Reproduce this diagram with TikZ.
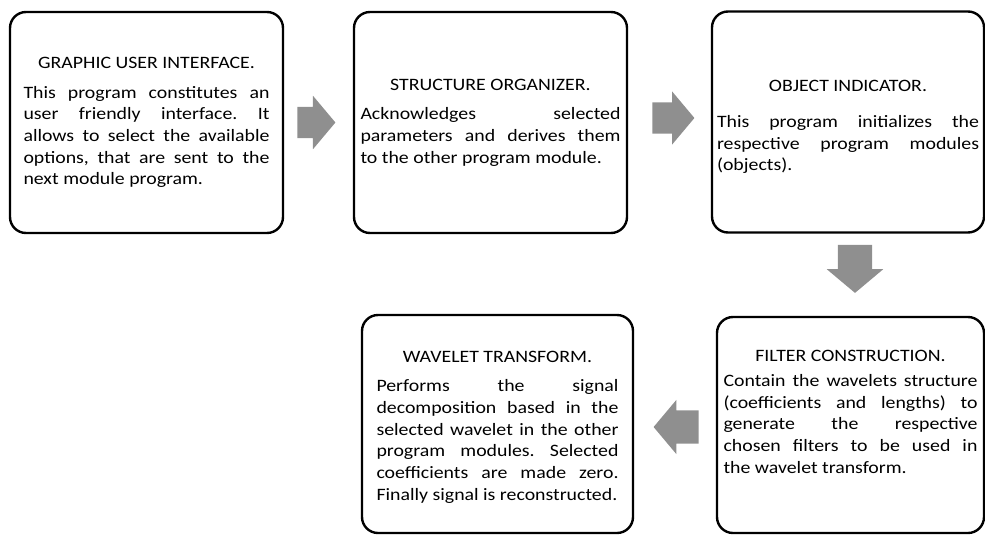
\documentclass[tikz,border=0pt]{standalone}
\usepackage{fontspec}
\setmainfont{Carlito}[FakeStretch=1.14]
\usepackage{tikz}
\usetikzlibrary{shapes.arrows}
\usetikzlibrary{calc}
\definecolor{arrowgray}{RGB}{143,143,143}
\tolerance=9999
\hbadness=10000
\frenchspacing
\newcommand{\boxhead}[2][8pt]{{\centering #2\par}\vspace{#1}}

\begin{document}
\begin{tikzpicture}[x=1pt,y=-1pt,
  module/.style={draw, line width=2.4pt, rounded corners=16pt, align=justify,
    inner sep=0pt, minimum height=#1, font=\fontsize{17.4}{21.7}\selectfont},
  flow/.style={single arrow, fill=arrowgray, inner sep=0pt, inner ysep=15.5pt,
    single arrow head extend=11pt, single arrow tip angle=100, minimum height=#1, anchor=tail}]
\useasboundingbox (0,0) rectangle (985,536);
% top row
\node[module=221pt, minimum width=273pt, text width=246pt] (gui) at (146.5,122.5) {\boxhead{GRAPHIC USER INTERFACE.}
 This program constitutes an\linebreak
user friendly interface. It\linebreak
allows to select the available\linebreak
options, that are sent to the\linebreak
next module program.};
\node[module=221pt, minimum width=273pt, text width=260pt] (org) at (490.5,122.5) {\boxhead{STRUCTURE ORGANIZER.}
Acknowledges selected\linebreak
parameters and derives them\linebreak
to the other program module.};
\node[module=221pt, minimum width=272pt, text width=262pt] (obj) at (848,122) {\hrule height0pt\kern10pt
\boxhead[14pt]{OBJECT INDICATOR.}
This program initializes the\linebreak
respective program modules\linebreak
(objects).};
% bottom row
\node[module=216pt, minimum width=267pt, text width=254pt] (filt) at (850.5,425) {\boxhead[3pt]{FILTER CONSTRUCTION.}
Contain the wavelets structure\linebreak
(coefficients and lengths) to\linebreak
generate the respective\linebreak
chosen filters to be used in\linebreak
the wavelet transform.\par\kern26pt\hrule height0pt};
\node[module=218pt, minimum width=271pt, text width=242pt] (wav) at (497.5,424) {\hrule height0pt\kern6pt
\boxhead{WAVELET TRANSFORM.}
Performs the signal\linebreak
decomposition based in the\linebreak
selected wavelet in the other\linebreak
program modules. Selected\linebreak
coefficients are made zero.\linebreak
Finally signal is reconstructed.};
% arrows
\node[flow=38pt] (a1) at ($(gui.east)+(13,0)$) {};
\node[flow=42pt] (a2) at ($(org.east)+(24,-4.5)$) {};
\node[flow=48pt, rotate=-90, inner ysep=17pt] (a3) at ($(obj.south)+(7,11)$) {};
\node[flow=45pt, rotate=180, inner ysep=16.5pt, single arrow head extend=10.5pt] (a4) at ($(filt.west)+(-17,2)$) {};
\end{tikzpicture}
\end{document}
